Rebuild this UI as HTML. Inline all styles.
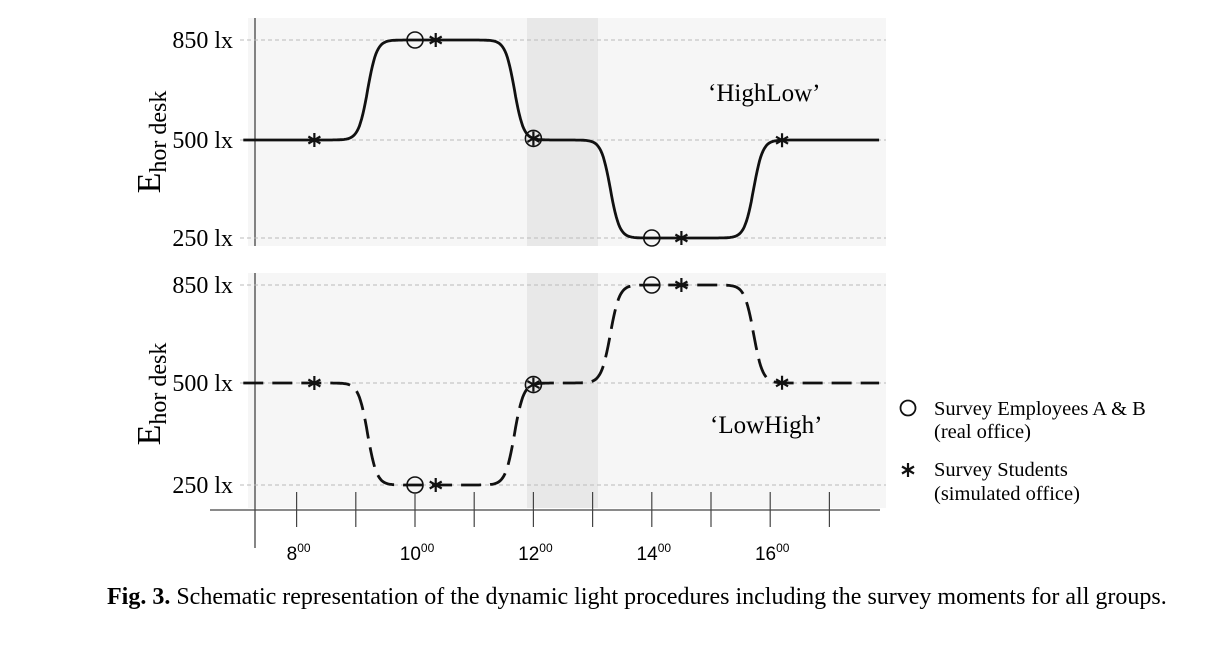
<!DOCTYPE html>
<html><head><meta charset="utf-8">
<style>
html,body{margin:0;padding:0;background:#fff;width:1230px;height:647px;overflow:hidden}
svg{display:block}
.serif{font-family:"Liberation Serif",serif}
.sans{font-family:"Liberation Sans",sans-serif}
</style></head>
<body>
<svg id="chart" width="1230" height="647" viewBox="0 0 1230 647">
  <g id="static">
    <rect x="248" y="18" width="638" height="228" fill="#f6f6f6"/>
    <rect x="248" y="273" width="638" height="235" fill="#f6f6f6"/>
    <rect x="527" y="18" width="71" height="228" fill="#e8e8e8"/>
    <rect x="527" y="273" width="71" height="235" fill="#e8e8e8"/>
    <line x1="255" y1="18" x2="255" y2="246" stroke="#444" stroke-width="1.3"/>
    <line x1="255" y1="273" x2="255" y2="548" stroke="#444" stroke-width="1.3"/>
    <line x1="210" y1="510" x2="880" y2="510" stroke="#444" stroke-width="1.3"/>
    <text x="708" y="101" class="serif" font-size="25">‘HighLow’</text>
    <text x="710" y="433" class="serif" font-size="25">‘LowHigh’</text>
    <g transform="translate(160,142) rotate(-90)">
      <text class="serif" text-anchor="middle" font-size="34">E<tspan font-size="24" dy="6">hor desk</tspan></text>
    </g>
    <g transform="translate(160,394) rotate(-90)">
      <text class="serif" text-anchor="middle" font-size="34">E<tspan font-size="24" dy="6">hor desk</tspan></text>
    </g>
    <g>
      <circle cx="908" cy="408" r="7.5" fill="none" stroke="#111" stroke-width="1.8"/>
      <g stroke="#111" stroke-width="2.2">
        <line x1="908" y1="463" x2="908" y2="477"/><line x1="902" y1="466.5" x2="914" y2="473.5"/><line x1="902" y1="473.5" x2="914" y2="466.5"/>
      </g>
      <text x="934" y="415" class="serif" font-size="20.5">Survey Employees  A &amp; B</text>
      <text x="934" y="438" class="serif" font-size="20.5">(real office)</text>
      <text x="934" y="476" class="serif" font-size="20.5">Survey Students</text>
      <text x="934" y="500" class="serif" font-size="20.5">(simulated office)</text>
    </g>
    <text x="107" y="604" class="serif" font-size="24"><tspan font-weight="bold">Fig. 3.</tspan> Schematic representation of the dynamic light procedures including the survey moments for all groups.</text>
  </g>
  <g id="dyn"></g>
</svg>
<script>
const hourTicks = [8,9,10,11,12,13,14,15,16,17];
const hourLabels = [8,10,12,14,16];
const yTicks = [250,500,850];
const transitionTimes = [9.2,11.68,13.3,15.72];
const highLowLevels = [500,850,500,250,500];
const lowHighLevels = [500,250,500,850,500];
const circleTimes = [10,12,14];
const starTimes = [8.3,10.35,12,14.5,16.2];

const NS = 'http://www.w3.org/2000/svg';
const g = document.getElementById('dyn');
const xS = h => 415 + (h - 10) * 59.2;
const panels = [
  {name:'top', yMap:{850:40,500:140,250:238}, levels:highLowLevels, dash:null},
  {name:'bottom', yMap:{850:285,500:383,250:485}, levels:lowHighLevels, dash:'20 9'}
];
function mk(tag, attrs){const e=document.createElementNS(NS,tag);for(const k in attrs)e.setAttribute(k,attrs[k]);g.appendChild(e);return e;}
function yScale(p, v){
  if(v<=500){return p.yMap[250]+(v-250)/250*(p.yMap[500]-p.yMap[250]);}
  return p.yMap[500]+(v-500)/350*(p.yMap[850]-p.yMap[500]);
}
function val(levels, t){
  let v=levels[0];
  for(let i=0;i<transitionTimes.length;i++){
    const d=levels[i+1]-levels[i];
    v+=d/(1+Math.exp(-(t-transitionTimes[i])*13));
  }
  return v;
}
panels.forEach(p=>{
  yTicks.forEach(v=>{
    const y=yScale(p,v);
    const l=mk('line',{x1:240,x2:886,y1:y,y2:y,stroke:'#bbb','stroke-width':1,'stroke-dasharray':'4 3'});
    
    
    const t=mk('text',{x:233,y:y+8,'text-anchor':'end','font-size':24,class:'serif'});
    t.textContent=v+' lx';
    
    
  });
  let d='';
  for(let t=6.8;t<=17.85;t+=0.02){const x=xS(t);if(x<243||x>885)continue;d+=(d?'L':'M')+x.toFixed(1)+','+yScale(p,val(p.levels,t)).toFixed(1);}
  const path=mk('path',{d:d,fill:'none',stroke:'#111','stroke-width':2.8});
  if(p.dash)path.setAttribute('stroke-dasharray',p.dash);
  
  
  circleTimes.forEach(t=>{
    const c=mk('circle',{cx:xS(t),cy:yScale(p,val(p.levels,t)),r:8,fill:'none',stroke:'#111','stroke-width':1.6});
    
    
  });
  starTimes.forEach(t=>{
    const cx=xS(t), cy=yScale(p,val(p.levels,t));
    const s=mk('path',{d:`M${cx},${cy-7}V${cy+7}M${cx-6},${cy-3.5}L${cx+6},${cy+3.5}M${cx-6},${cy+3.5}L${cx+6},${cy-3.5}`,stroke:'#111','stroke-width':2.2,fill:'none'});
    
    
  });
});
hourTicks.forEach(h=>{
  const l=mk('line',{x1:xS(h),x2:xS(h),y1:492,y2:527,stroke:'#444','stroke-width':1.2});
  
  
});
hourLabels.forEach(h=>{
  const t=mk('text',{x:xS(h)+2,y:560,'text-anchor':'middle','font-size':19,class:'sans'});
  t.textContent=h;
  const s=document.createElementNS(NS,'tspan');s.setAttribute('font-size','12');s.setAttribute('dy','-8');s.textContent='00';t.appendChild(s);
  
  
});
</script>
</body></html>
